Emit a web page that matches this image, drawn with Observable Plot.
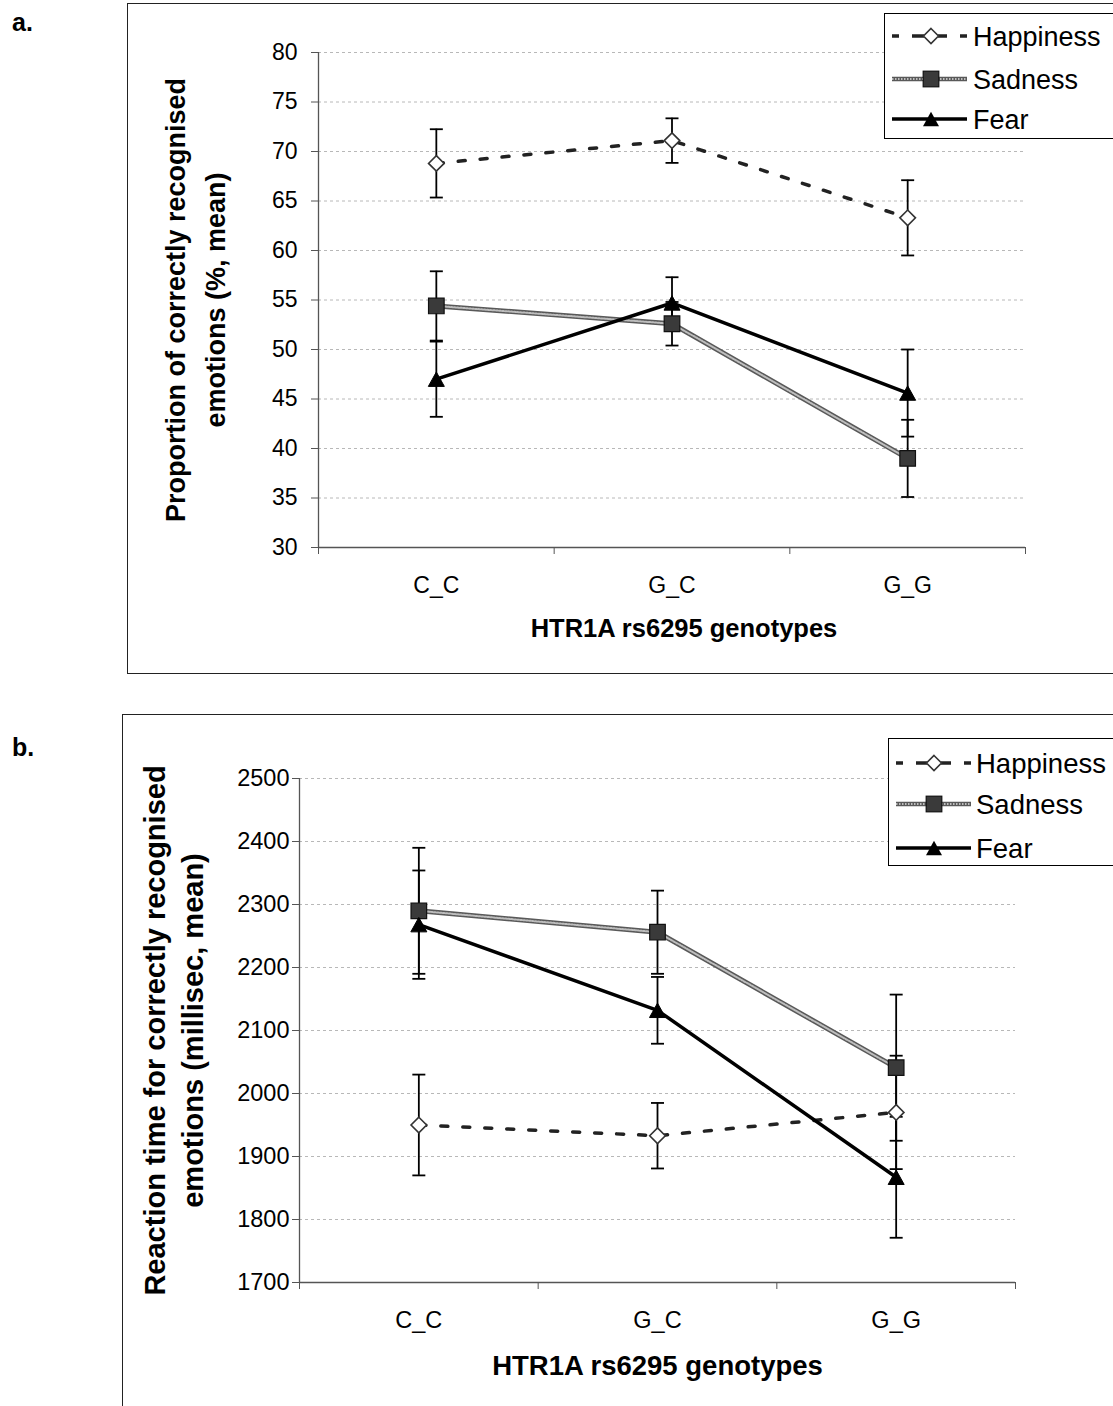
<!DOCTYPE html>
<html><head><meta charset="utf-8">
<script src="https://cdn.jsdelivr.net/npm/d3@7"></script>
<script src="https://cdn.jsdelivr.net/npm/@observablehq/plot@0.6"></script>
<style>
body{margin:0;background:#fff;font-family:"Liberation Sans",Arial,sans-serif;}
#root{position:relative;width:1113px;height:1406px;overflow:hidden;background:#fff;}
.box{position:absolute;border:1px solid #222;border-right:none;box-sizing:border-box;}
.panel{position:absolute;}
.panel svg{display:block;max-width:none;}
.plabel{position:absolute;font-weight:bold;font-size:25px;line-height:1;}
.legend{position:absolute;border:1.5px solid #000;background:#fff;box-sizing:border-box;}
.legend svg{display:block;}
</style></head><body><div id="root"></div>
<script>
// ---------- data ----------
const genotypes = ["C_C", "G_C", "G_G"];
const seriesNames = ["Happiness", "Sadness", "Fear"];

// panel a: proportion of correctly recognised emotions (%, mean) with error bars
const accHappiness = [68.8, 71.1, 63.3];
const accHappinessErr = [3.45, 2.25, 3.8];
const accSadness = [54.4, 52.6, 39.0];
const accSadnessErr = [3.5, 2.2, 3.9];
const accFear = [47.0, 54.7, 45.6];
const accFearErr = [3.8, 2.6, 4.4];
const accTicks = [30, 35, 40, 45, 50, 55, 60, 65, 70, 75, 80];

// panel b: reaction time for correctly recognised emotions (millisec, mean)
const rtHappiness = [1950, 1933, 1970];
const rtHappinessErr = [80, 52, 90];
const rtSadness = [2290, 2256, 2041];
const rtSadnessErr = [100, 66, 116];
const rtFear = [2268, 2132, 1867];
const rtFearErr = [86, 53, 96];
const rtTicks = [1700, 1800, 1900, 2000, 2100, 2200, 2300, 2400, 2500];

const xTitle = "HTR1A rs6295 genotypes";
const accYTitle = "Proportion of correctly recognised\nemotions (%, mean)";
const rtYTitle = "Reaction time for correctly recognised\nemotions (millisec, mean)";

// ---------- helpers ----------
function rowsFor(values, errs, series) {
  return genotypes.map((g, i) => ({series, g, xi: i + 0.5, v: values[i], lo: values[i] - errs[i], hi: values[i] + errs[i]}));
}
const rad = (size) => Math.sqrt(size / Math.PI);
const capSymbol = {draw(ctx, size) { const r = rad(size); ctx.moveTo(-r, 0); ctx.lineTo(r, 0); }};
const diamondSymbol = {draw(ctx, size) { const r = rad(size); ctx.moveTo(0, -r); ctx.lineTo(r, 0); ctx.lineTo(0, r); ctx.lineTo(-r, 0); ctx.closePath(); }};
const squareSymbol = {draw(ctx, size) { const r = rad(size); ctx.rect(-r, -r, 2 * r, 2 * r); }};
const triangleSymbol = {draw(ctx, size) { const r = rad(size); ctx.moveTo(0, -r * 0.9); ctx.lineTo(r, r * 0.9); ctx.lineTo(-r, r * 0.9); ctx.closePath(); }};

const FONT = "Liberation Sans, Arial, sans-serif";

function makePanel(cfg) {
  const H = rowsFor(cfg.hap, cfg.hapErr, "Happiness");
  const S = rowsFor(cfg.sad, cfg.sadErr, "Sadness");
  const F = rowsFor(cfg.fear, cfg.fearErr, "Fear");
  const all = [...H, ...S, ...F];
  const y0 = cfg.ticks[0];
  return Plot.plot({
    width: cfg.width, height: cfg.height,
    marginLeft: cfg.ml, marginRight: cfg.mr, marginTop: cfg.mt, marginBottom: cfg.mb,
    x: {domain: [0, genotypes.length]},
    y: {domain: [y0, cfg.ticks[cfg.ticks.length - 1]]},
    style: {fontFamily: FONT, background: "transparent", color: "#000", overflow: "visible"},
    marks: [
      Plot.ruleY(cfg.ticks.filter(t => t > y0), {stroke: "#b8b8b8", strokeOpacity: 1, strokeDasharray: "3,3", strokeWidth: 1}),
      Plot.axisY(cfg.ticks, {tickSize: 7, tickPadding: cfg.tickPadY, fontSize: cfg.tickFont, label: null, stroke: "#555", tickFormat: d => String(d)}),
      Plot.axisX([0, 1, 2, 3], {tickSize: 7, tickFormat: () => "", label: null, stroke: "#555"}),
      Plot.axisX([0.5, 1.5, 2.5], {tickSize: 0, tickPadding: 29, fontSize: cfg.tickFont, label: null, tickFormat: d => genotypes[Math.floor(d)]}),
      Plot.ruleX([0], {stroke: "#555", strokeWidth: 1.3}),
      Plot.ruleY([y0], {stroke: "#555", strokeWidth: 1.3}),
      // error bars
      Plot.ruleX(all, {x: "xi", y1: "lo", y2: "hi", stroke: "#000", strokeWidth: 1.8}),
      Plot.dot(all, {x: "xi", y: "hi", symbol: capSymbol, r: 6.5, stroke: "#000", strokeWidth: 1.8, fill: "none"}),
      Plot.dot(all, {x: "xi", y: "lo", symbol: capSymbol, r: 6.5, stroke: "#000", strokeWidth: 1.8, fill: "none"}),
      // lines
      Plot.line(H, {x: "xi", y: "v", stroke: "#222", strokeWidth: 3.5, strokeDasharray: "7,15"}),
      Plot.line(S, {x: "xi", y: "v", stroke: "#595959", strokeWidth: 5}),
      Plot.line(S, {x: "xi", y: "v", stroke: "#bdbdbd", strokeWidth: 2, strokeDasharray: "1.5,1.5"}),
      Plot.line(F, {x: "xi", y: "v", stroke: "#000", strokeWidth: 3.5}),
      // markers
      Plot.dot(H, {x: "xi", y: "v", symbol: diamondSymbol, r: 7.8, fill: "#fff", stroke: "#333", strokeWidth: 1.6}),
      Plot.dot(S, {x: "xi", y: "v", symbol: squareSymbol, r: 7.8, fill: "#3a3a3a", stroke: "#111", strokeWidth: 1.2}),
      Plot.dot(F, {x: "xi", y: "v", symbol: triangleSymbol, r: 8, fill: "#000", stroke: "#000", strokeWidth: 1}),
      // titles
      Plot.text([cfg.yTitle], {text: d => d, frameAnchor: "left", rotate: -90, dx: cfg.yTitleDx, fontSize: cfg.yTitleFont, fontWeight: "bold", lineHeight: cfg.yTitleLH, textAnchor: "middle", lineAnchor: "middle", fill: "#000"}),
      Plot.text([xTitle], {text: d => d, frameAnchor: "bottom", dy: cfg.xTitleDy, dx: cfg.xTitleDx, fontSize: cfg.xTitleFont, fontWeight: "bold", textAnchor: "middle", lineAnchor: "middle", fill: "#000"})
    ]
  });
}

function makeLegend(w, h, rows, font) {
  const svg = d3.create("svg").attr("width", w).attr("height", h).style("font-family", FONT);
  const [yH, yS, yF] = rows.ys;
  const x0 = rows.x0, x1 = rows.x1, xm = rows.xm, xt = rows.xt;
  // Happiness
  svg.append("line").attr("x1", x0).attr("x2", xm - 7).attr("y1", yH).attr("y2", yH)
    .attr("stroke", "#222").attr("stroke-width", 3.5).attr("stroke-dasharray", "7,13,12");
  svg.append("line").attr("x1", x1).attr("x2", xm + 7).attr("y1", yH).attr("y2", yH)
    .attr("stroke", "#222").attr("stroke-width", 3.5).attr("stroke-dasharray", "7,13,12");
  svg.append("path").attr("d", `M${xm},${yH - 7.5}L${xm + 7.5},${yH}L${xm},${yH + 7.5}L${xm - 7.5},${yH}Z`)
    .attr("fill", "#fff").attr("stroke", "#333").attr("stroke-width", 1.6);
  // Sadness
  svg.append("line").attr("x1", x0).attr("x2", x1).attr("y1", yS).attr("y2", yS).attr("stroke", "#595959").attr("stroke-width", 4.5);
  svg.append("line").attr("x1", x0).attr("x2", x1).attr("y1", yS).attr("y2", yS).attr("stroke", "#bdbdbd").attr("stroke-width", 1.8).attr("stroke-dasharray", "1.5,1.5");
  svg.append("rect").attr("x", xm - 7.8).attr("y", yS - 7.8).attr("width", 15.6).attr("height", 15.6).attr("fill", "#3a3a3a").attr("stroke", "#111").attr("stroke-width", 1.2);
  // Fear
  svg.append("line").attr("x1", x0).attr("x2", x1).attr("y1", yF).attr("y2", yF).attr("stroke", "#000").attr("stroke-width", 3.5);
  svg.append("path").attr("d", `M${xm},${yF - 7.2}L${xm + 8},${yF + 7.2}L${xm - 8},${yF + 7.2}Z`).attr("fill", "#000");
  seriesNames.forEach((n, i) => {
    svg.append("text").attr("x", xt).attr("y", rows.ys[i]).attr("dy", "0.36em").attr("font-size", font).attr("fill", "#000").text(n);
  });
  return svg.node();
}

const root = document.getElementById("root");
function add(el, cls, css) { const d = document.createElement("div"); if (cls) d.className = cls; Object.assign(d.style, css); if (el) d.appendChild(el); root.appendChild(d); return d; }

// boxes
add(null, "box", {left: "127px", top: "3px", width: "990px", height: "671px"});
add(null, "box", {left: "122px", top: "714px", width: "995px", height: "700px"});

// panel labels
const la = add(null, "plabel", {left: "12px", top: "10px"}); la.textContent = "a.";
const lb = add(null, "plabel", {left: "12px", top: "735px"}); lb.textContent = "b.";

// panel a
add(makePanel({
  width: 986, height: 670, ml: 191, mr: 88, mt: 49, mb: 126,
  hap: accHappiness, hapErr: accHappinessErr, sad: accSadness, sadErr: accSadnessErr, fear: accFear, fearErr: accFearErr,
  ticks: accTicks, tickFont: 23, tickPadY: 14,
  yTitle: accYTitle, yTitleDx: -126, yTitleFont: 27, yTitleLH: 1.48,
  xTitleDy: 81, xTitleDx: 12, xTitleFont: 25.5
}), "panel", {left: "127px", top: "3px"});

// panel b
add(makePanel({
  width: 991, height: 692, ml: 177, mr: 98, mt: 64, mb: 124,
  hap: rtHappiness, hapErr: rtHappinessErr, sad: rtSadness, sadErr: rtSadnessErr, fear: rtFear, fearErr: rtFearErr,
  ticks: rtTicks, tickFont: 23.5, tickPadY: 3,
  yTitle: rtYTitle, yTitleDx: -128, yTitleFont: 29, yTitleLH: 1.31,
  xTitleDy: 84, xTitleDx: 0, xTitleFont: 27.5
}), "panel", {left: "122px", top: "714px"});

// legends
add(makeLegend(232, 125, {ys: [22, 65, 105], x0: 7, x1: 82, xm: 46, xt: 88}, 27), "legend", {left: "884px", top: "13px", width: "232px", height: "126px"});
add(makeLegend(228, 127, {ys: [24, 65, 109], x0: 7, x1: 82, xm: 45, xt: 87}, 27.5), "legend", {left: "888px", top: "738px", width: "228px", height: "128px"});
</script></body></html>
